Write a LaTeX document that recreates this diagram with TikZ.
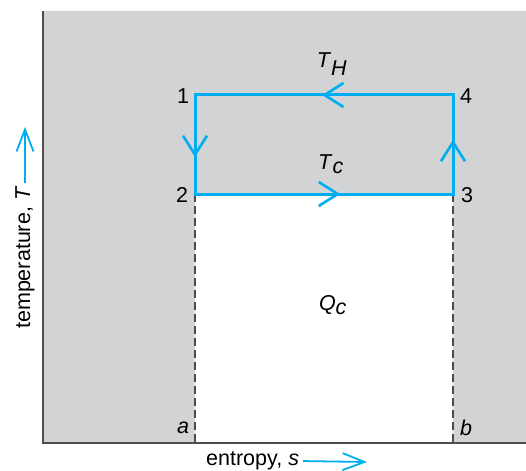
\documentclass[tikz,border=0pt]{standalone}
\usepackage{fontspec}
\setmainfont{Liberation Sans}
\usetikzlibrary{arrows.meta,decorations.markings}
\definecolor{cycleblue}{RGB}{0,174,239}
\definecolor{plotgray}{RGB}{209,211,212}
\definecolor{axisgray}{RGB}{77,77,79}
\tikzset{vtip/.tip={Straight Barb[length=19pt,width=24pt,line width=2.6pt]}}

\begin{document}
\begin{tikzpicture}[
x=1pt, y=-1pt,
font=\fontsize{21.5}{25}\selectfont,
cycle/.style={cycleblue, line width=3pt, line join=miter},
barb/.style={postaction={decorate, decoration={markings,
  mark=at position 0.087 with {\arrow{vtip}},
  mark=at position 0.342 with {\arrow{vtip}},
  mark=at position 0.576 with {\arrow{vtip}},
  mark=at position 0.822 with {\arrow{vtip}}}}},
axis/.style={axisgray, line width=2pt},
guide/.style={axisgray, line width=1.2pt, dash pattern=on 8pt off 4pt},
dirarrow/.style={cycleblue, line width=1.8pt, -{Straight Barb[length=22pt,width=17pt]}},
lbl/.style={inner sep=0pt}
]
\useasboundingbox (0,0) rectangle (526,470);

% corners of the cycle and the axes
\coordinate (p1) at (195,95);
\coordinate (p2) at (195,194);
\coordinate (p3) at (453,194);
\coordinate (p4) at (453,95);
\coordinate (a) at (195,443);
\coordinate (b) at (453,443);
\coordinate (origin) at (43,443);
\coordinate (ytop) at (43,11);
\coordinate (xend) at (526,443);

% shaded areas
\fill[plotgray] (ytop) rectangle (xend);
\fill[white] (p2) rectangle (b);

\draw[guide] (p2) -- (a);
\draw[guide] (p3) -- (b);
\draw[axis] (ytop) -- (origin) -- (xend);

% the cycle
\draw[cycle, barb] (p1) -- (p2) -- (p3) -- (p4) -- cycle;

\node[lbl] (n1) at (183,96) {1};
\node[lbl] (n2) at (182,195) {2};
\node[lbl] (n3) at (467,195) {3};
\node[lbl] (n4) at (466,96) {4};
\node[lbl] (TH) at (332,64) {\textit{T}$_{\textit{H}}$};
\node[lbl] (Tc) at (331,164) {\textit{T}$_{\textit{c}}$};
\node[lbl] (Qc) at (333,305) {\textit{Q}$_{\textit{c}}$};
\node[lbl] (la) at (183,428) {\textit{a}};
\node[lbl] (lb) at (466,428) {\textit{b}};

% axis labels
\node[lbl, anchor=west] (xlab) at (206,461) {entropy, \textit{s}};
\coordinate (xtip) at (367,462);
\draw[dirarrow, shorten <=4pt] (xlab.east) -- (xtip);
\node[lbl, rotate=90, anchor=west] (ylab) at (25,329) {temperature, \textit{T}};
\coordinate (ytip) at (25,127);
\draw[dirarrow, shorten <=3pt] (ylab.east) -- (ytip);
\end{tikzpicture}
\end{document}
